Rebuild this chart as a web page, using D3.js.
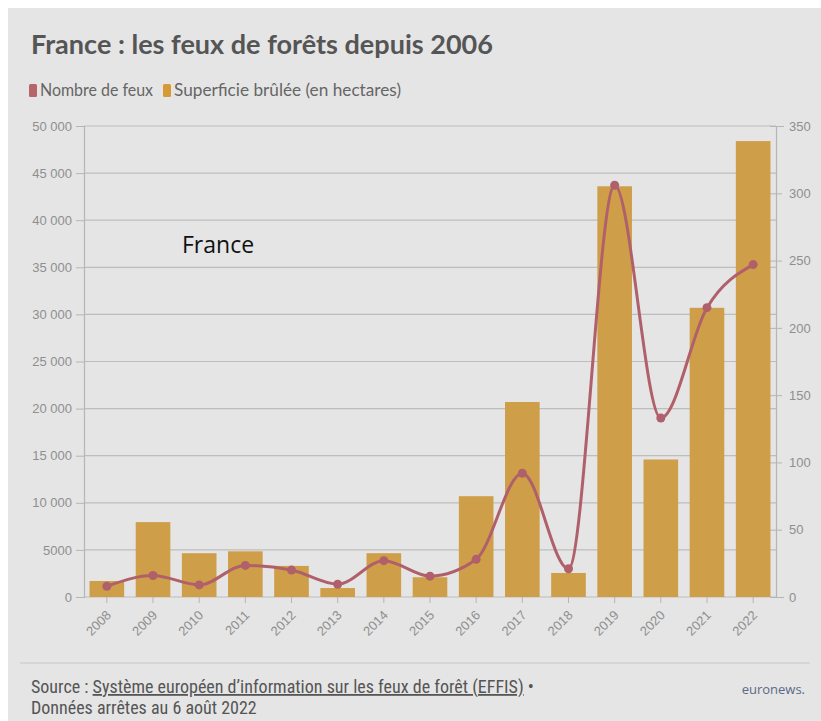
<!DOCTYPE html>
<html>
<head>
<meta charset="utf-8">
<script src="https://cdn.jsdelivr.net/npm/d3@7"></script>
<style>
  html, body { margin: 0; padding: 0; background: #ffffff; }
  #chart { width: 821px; height: 721px; }
</style>
</head>
<body>
<div id="chart"></div>
<script>
const years = ["2008", "2009", "2010", "2011", "2012", "2013", "2014", "2015",
  "2016", "2017", "2018", "2019", "2020", "2021", "2022"];
const surface = [1700, 7950, 4650, 4850, 3300, 950, 4650, 2100,
  10700, 20700, 2550, 43600, 14600, 30700, 48400];
const fires = [8, 16, 9, 23.5, 20, 9.5, 27, 15.5, 28, 92, 21, 306, 133, 215, 247];
const leftTicks = [0, 5000, 10000, 15000, 20000, 25000, 30000, 35000, 40000, 45000, 50000];
const rightTicks = [0, 50, 100, 150, 200, 250, 300, 350];

const width = 821, height = 721;
const margin = { top: 126, right: 45, bottom: 124, left: 84 };
const barColor = "#cf9e49";
const lineColor = "#b0606a";

const svg = d3.select("#chart")
  .append("svg")
  .attr("width", width)
  .attr("height", height);

// photographed-screen background
svg.append("rect")
  .attr("x", 8).attr("y", 8)
  .attr("width", width - 8).attr("height", height - 8)
  .attr("fill", "#e5e5e5");

const xScale = d3.scaleBand()
  .domain(years)
  .range([margin.left, width - margin.right])
  .paddingInner(0.25)
  .paddingOuter(0.12);

const yLeft = d3.scaleLinear()
  .domain([0, 50000])
  .range([height - margin.bottom, margin.top]);

const yRight = d3.scaleLinear()
  .domain([0, 350])
  .range([height - margin.bottom, margin.top]);

const fmt = d => d >= 10000 ? d3.format(",")(d).replace(",", " ") : String(d);

// grid lines
svg.append("g")
  .selectAll("line")
  .data(leftTicks)
  .join("line")
  .attr("x1", margin.left)
  .attr("x2", width - margin.right)
  .attr("y1", d => yLeft(d))
  .attr("y2", d => yLeft(d))
  .attr("stroke", "#bdbdbd")
  .attr("stroke-width", 1.2);

// left axis
const leftAxis = svg.append("g")
  .attr("transform", `translate(${margin.left},0)`)
  .call(d3.axisLeft(yLeft).tickValues(leftTicks).tickFormat(fmt).tickSize(8).tickPadding(4));

// right axis
const rightAxis = svg.append("g")
  .attr("transform", `translate(${width - margin.right},0)`)
  .call(d3.axisRight(yRight).tickValues(rightTicks).tickSize(8).tickPadding(5));

[leftAxis, rightAxis].forEach(g => {
  g.select(".domain").attr("stroke", "#b5b5b5").attr("stroke-width", 1.2);
  g.selectAll(".tick line").attr("stroke", "#b5b5b5");
  g.selectAll("text")
    .attr("fill", "#8f8f8f")
    .style("font-family", "Liberation Sans, Arial, sans-serif")
    .style("font-size", "13px");
});
rightAxis.selectAll(".tick line").attr("x2", 6);
rightAxis.selectAll(".tick line").attr("x1", -6);

// bars
svg.append("g")
  .selectAll("rect")
  .data(years.map((y, i) => ({ year: y, value: surface[i] })))
  .join("rect")
  .attr("x", d => xScale(d.year))
  .attr("y", d => yLeft(d.value))
  .attr("width", xScale.bandwidth())
  .attr("height", d => yLeft(0) - yLeft(d.value))
  .attr("fill", barColor);

// x axis
const xAxis = svg.append("g")
  .attr("transform", `translate(0,${height - margin.bottom})`)
  .call(d3.axisBottom(xScale).tickSize(6).tickSizeOuter(0));
xAxis.select(".domain").remove();
xAxis.selectAll(".tick line").attr("stroke", "#b5b5b5");
xAxis.selectAll("text")
  .attr("fill", "#8f8f8f")
  .style("font-family", "Liberation Sans, Arial, sans-serif")
  .style("font-size", "13px")
  .attr("y", 0)
  .attr("dy", 0)
  .attr("transform", "translate(5,19) rotate(-45)")
  .style("text-anchor", "end");

// line
const lineData = years.map((y, i) => ({ year: y, value: fires[i] }));
const line = d3.line()
  .x(d => xScale(d.year) + xScale.bandwidth() / 2)
  .y(d => yRight(d.value))
  .curve(d3.curveMonotoneX);

svg.append("path")
  .datum(lineData)
  .attr("d", line)
  .attr("fill", "none")
  .attr("stroke", lineColor)
  .attr("stroke-width", 3);

svg.append("g")
  .selectAll("circle")
  .data(lineData)
  .join("circle")
  .attr("cx", d => xScale(d.year) + xScale.bandwidth() / 2)
  .attr("cy", d => yRight(d.value))
  .attr("r", 4.5)
  .attr("fill", lineColor);

// title
svg.append("text")
  .attr("x", 31)
  .attr("y", 54)
  .attr("fill", "#555555")
  .style("font-family", "Lato, sans-serif")
  .style("font-weight", "bold")
  .style("font-size", "27px")
  .attr("textLength", 462)
  .attr("lengthAdjust", "spacingAndGlyphs")
  .text("France : les feux de forêts depuis 2006");

// legend
const legend = [
  { label: "Nombre de feux", color: "#b5666a", x: 29, w: 113 },
  { label: "Superficie brûlée (en hectares)", color: "#d59a35", x: 163, w: 227 }
];
const lg = svg.append("g").selectAll("g").data(legend).join("g")
  .attr("transform", d => `translate(${d.x},84)`);
lg.append("rect")
  .attr("width", 8).attr("height", 13).attr("rx", 1.5)
  .attr("fill", d => d.color);
lg.append("text")
  .attr("x", 11).attr("y", 12)
  .attr("fill", "#666666")
  .style("font-family", "Lato, sans-serif")
  .style("font-size", "16.5px")
  .attr("textLength", d => d.w)
  .attr("lengthAdjust", "spacingAndGlyphs")
  .text(d => d.label);

// annotation
svg.append("text")
  .attr("x", 182)
  .attr("y", 253)
  .attr("fill", "#111111")
  .style("font-family", "Open Sans, sans-serif")
  .style("font-size", "23px")
  .text("France");

// footer
svg.append("line")
  .attr("x1", 20).attr("x2", 810)
  .attr("y1", 663).attr("y2", 663)
  .attr("stroke", "#c8c8c8").attr("stroke-width", 1.2);

const foot = svg.append("text")
  .attr("x", 31).attr("y", 693)
  .attr("fill", "#555555")
  .style("font-family", "Liberation Sans Narrow, Roboto Condensed, sans-serif")
  .style("font-size", "18px");
foot.append("tspan").text("Source : ");
foot.append("tspan")
  .style("text-decoration", "underline")
  .text("Système européen d\u2019information sur les feux de forêt (EFFIS)");
foot.append("tspan").text(" \u2022");

svg.append("text")
  .attr("x", 31).attr("y", 714)
  .attr("fill", "#555555")
  .style("font-family", "Liberation Sans Narrow, Roboto Condensed, sans-serif")
  .style("font-size", "18px")
  .text("Données arrêtes au 6 août 2022");

svg.append("text")
  .attr("x", 805).attr("y", 694)
  .attr("text-anchor", "end")
  .attr("fill", "#5a6a88")
  .style("font-family", "Open Sans, sans-serif")
  .style("font-size", "13px")
  .text("euronews.");
</script>
</body>
</html>
